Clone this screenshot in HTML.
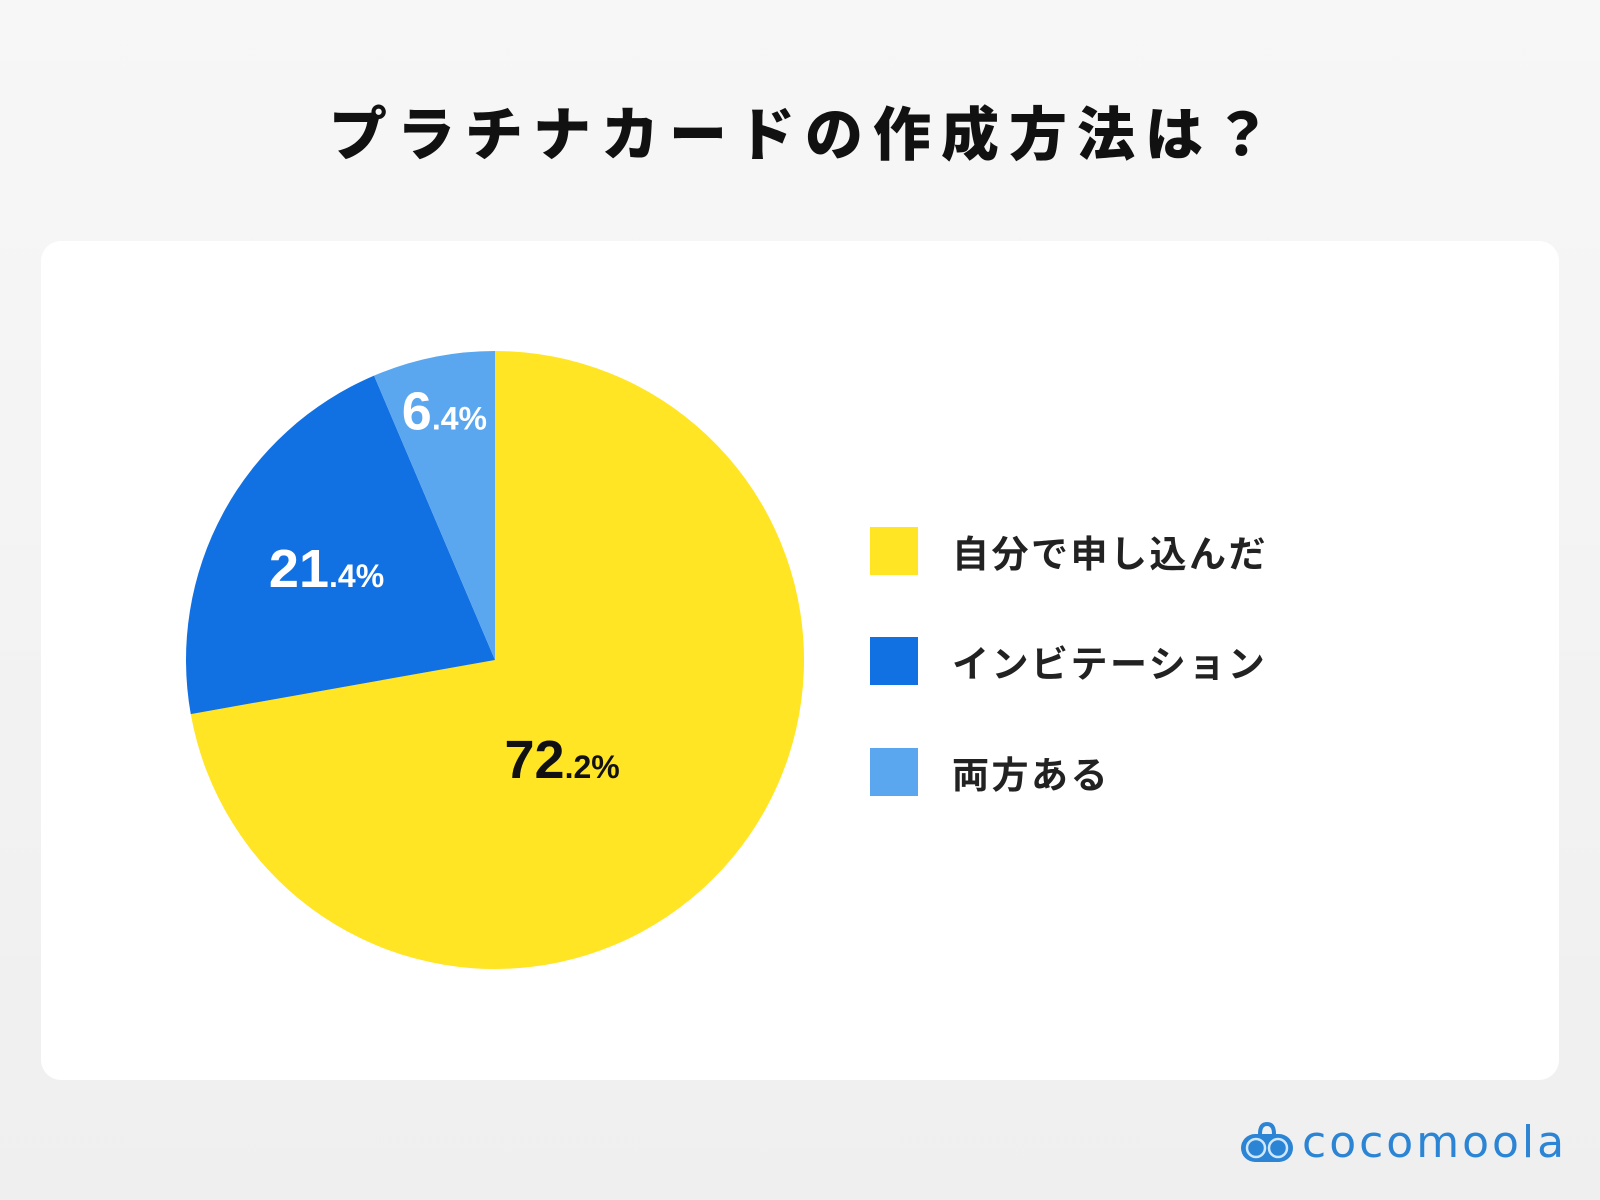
<!DOCTYPE html>
<html><head><meta charset="utf-8"><style>
body{margin:0;width:1600px;height:1200px;background:linear-gradient(#f7f7f7,#efefef);font-family:"Liberation Sans","Noto Sans CJK JP",sans-serif;position:relative;overflow:hidden}
.title{position:absolute;top:88px;left:0;width:1600px;text-align:center;font-size:58px;font-weight:900;color:#111;letter-spacing:10px;text-indent:10px}
.card{position:absolute;left:41px;top:241px;width:1518px;height:839px;background:#fff;border-radius:20px}
.leg{position:absolute;left:870px;width:600px;height:48px;display:flex;align-items:center}
.sw{width:48px;height:48px;margin-right:34px}
.lt{font-size:37px;font-weight:700;color:#222;letter-spacing:2.5px}
.logo{position:absolute;left:1240px;top:1117px;display:flex;align-items:center}
.logo span{font-size:44px;color:#2b84d4;font-family:"DejaVu Sans",sans-serif;letter-spacing:3px}
</style></head><body>
<div class="title">プラチナカードの作成方法は？</div>
<div class="card"></div>
<svg id="pie" width="1600" height="1200" style="position:absolute;left:0;top:0"></svg>
<div class="leg" style="top:527px"><div class="sw" style="background:#FFE524"></div><div class="lt">自分で申し込んだ</div></div>
<div class="leg" style="top:637px"><div class="sw" style="background:#1170E2"></div><div class="lt">インビテーション</div></div>
<div class="leg" style="top:748px"><div class="sw" style="background:#5AA7F0"></div><div class="lt">両方ある</div></div>
<div class="logo">
<svg width="54" height="42" viewBox="0 0 54 42"><path d="M20 12 Q20 2 27 2 Q34 2 34 12" stroke="#2b84d4" stroke-width="4" fill="none"/><rect x="1" y="12" width="52" height="28" rx="14" fill="#2b84d4"/><circle cx="16" cy="26" r="9" fill="#2b84d4" stroke="#cfe8ff" stroke-width="2.5"/><circle cx="38" cy="26" r="9" fill="#2b84d4" stroke="#cfe8ff" stroke-width="2.5"/></svg>
<span style="margin-left:8px">cocomoola</span></div>
<script>
const categories=["自分で申し込んだ","インビテーション","両方ある"];
const values=[72.2,21.4,6.4];
const colors=["#FFE524","#1170E2","#5AA7F0"];
const labelColors=["#111","#fff","#fff"];
const NS="http://www.w3.org/2000/svg";
const svg=document.getElementById("pie");
const cx=495,cy=660,R=309;
const labelR=[0.39,0.62,0.82];
const labelAngleShift=[0.045,0,0];
const total=values.reduce((a,b)=>a+b,0);
function pt(frac,r){const a=frac*2*Math.PI;return [cx+r*Math.sin(a),cy-r*Math.cos(a)];}
let acc=0;
values.forEach((v,i)=>{
  const s=acc/total,e=(acc+v)/total;acc+=v;
  const [x0,y0]=pt(s,R),[x1,y1]=pt(e,R);
  const p=document.createElementNS(NS,"path");
  p.setAttribute("d",`M${cx},${cy}L${x0},${y0}A${R},${R} 0 ${e-s>0.5?1:0} 1 ${x1},${y1}Z`);
  p.setAttribute("fill",colors[i]);
  
  
  svg.appendChild(p);
  const [lx,ly]=pt((s+e)/2+labelAngleShift[i],R*labelR[i]);
  const t=document.createElementNS(NS,"text");
  t.setAttribute("x",lx);t.setAttribute("y",ly+18);
  t.setAttribute("text-anchor","middle");t.setAttribute("fill",labelColors[i]);
  t.setAttribute("font-weight","700");t.setAttribute("font-family","Liberation Sans, sans-serif");
  
  
  const parts=v.toFixed(1).split(".");
  const a=document.createElementNS(NS,"tspan");a.setAttribute("font-size","54");a.textContent=parts[0];
  const b=document.createElementNS(NS,"tspan");b.setAttribute("font-size","32");b.textContent="."+parts[1]+"%";
  t.appendChild(a);t.appendChild(b);svg.appendChild(t);
});
</script>
</body></html>
